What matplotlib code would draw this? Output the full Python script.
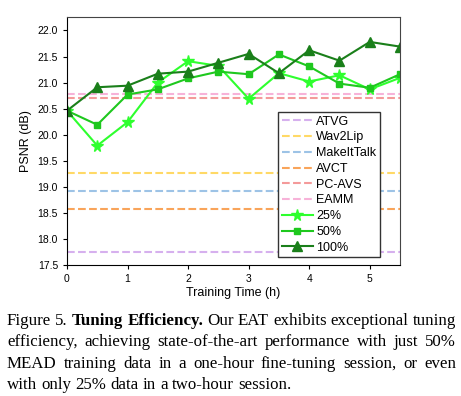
import numpy as np
import matplotlib
matplotlib.use('Agg')
import matplotlib.pyplot as plt

plt.rcParams['font.family'] = ['Liberation Sans', 'DejaVu Sans']

hours = [0, 0.5, 1, 1.5, 2, 2.5, 3, 3.5, 4, 4.5, 5, 5.5]
psnr_25 = [20.46, 19.79, 20.24, 21.00, 21.41, 21.32, 20.69, 21.18, 21.02, 21.14, 20.87, 21.09]
psnr_50 = [20.46, 20.19, 20.77, 20.87, 21.08, 21.21, 21.16, 21.54, 21.31, 20.98, 20.90, 21.16]
psnr_100 = [20.46, 20.91, 20.94, 21.17, 21.21, 21.38, 21.55, 21.18, 21.62, 21.42, 21.78, 21.69]

baselines = ['ATVG', 'Wav2Lip', 'MakeItTalk', 'AVCT', 'PC-AVS', 'EAMM']
baseline_psnr = [17.74, 19.27, 18.91, 18.57, 20.70, 20.78]
baseline_colors = ['#d6b0ee', '#ffd966', '#9dc3e6', '#f9a45a', '#f49a9a', '#f7b2d8']

ours = ['25%', '50%', '100%']
ours_colors = ['#2eff2e', '#1ec81e', '#1a7f1a']
ours_markers = ['*', 's', '^']
ours_msize = [8.5, 5, 7]

fig = plt.figure(figsize=(4.61, 3.96), dpi=100)
ax = fig.add_axes([0.1453, 0.331, 0.7224, 0.625])

for name, val, c in zip(baselines, baseline_psnr, baseline_colors):
    ax.axhline(val, color=c, linestyle='--', linewidth=1.5, label=name)

for name, ys, c, m, ms in zip(ours, [psnr_25, psnr_50, psnr_100], ours_colors, ours_markers, ours_msize):
    ax.plot(hours, ys, color=c, marker=m, markersize=ms, linewidth=1.5, label=name)

ax.set_xlim(0, 5.5)
ax.set_ylim(17.5, 22.25)
ax.set_xticks([0, 1, 2, 3, 4, 5])
ax.set_yticks(np.arange(17.5, 22.01, 0.5))
ax.yaxis.set_major_formatter(matplotlib.ticker.FormatStrFormatter('%.1f'))
ax.tick_params(labelsize=7.5, length=3)
ax.set_xlabel('Training Time (h)', fontsize=9, labelpad=2)
ax.set_ylabel('PSNR (dB)', fontsize=9, labelpad=4)
for s in ['top', 'right']:
    ax.spines[s].set_color('#444444')

leg = ax.legend(loc='lower right', bbox_to_anchor=(0.94, 0.03), fontsize=9,
                fancybox=False, edgecolor='#333333', framealpha=1,
                handlelength=2.5, handletextpad=0.25, labelspacing=0.3,
                borderpad=0.3, borderaxespad=0)
leg.get_frame().set_linewidth(1.0)

# caption, justified word by word
cap_lines = [
    [('Figure', 'normal'), ('5.', 'normal'), ('Tuning', 'bold'), ('Efficiency.', 'bold'), ('Our', 'normal'),
     ('EAT', 'normal'), ('exhibits', 'normal'), ('exceptional', 'normal'), ('tuning', 'normal')],
    [(w, 'normal') for w in 'efficiency, achieving state-of-the-art performance with just 50%'.split()],
    [(w, 'normal') for w in 'MEAD training data in a one-hour fine-tuning session, or even'.split()],
    [(w, 'normal') for w in 'with only 25% data in a two-hour session.'.split()],
]
cap_y = [325, 346.5, 368, 389]
left_px, right_px = 7, 456
W, H = fig.get_size_inches() * fig.dpi
renderer = fig.canvas.get_renderer()
for i, (words, ypx) in enumerate(zip(cap_lines, cap_y)):
    texts = []
    for w, wt in words:
        t = fig.text(0, 1 - ypx / H, w, fontsize=12.2, fontweight=wt,
                     family=['Liberation Serif', 'DejaVu Serif'], va='baseline', ha='left')
        texts.append(t)
    widths = [t.get_window_extent(renderer).width for t in texts]
    if i < len(cap_lines) - 1:
        gap = (right_px - left_px - sum(widths)) / (len(texts) - 1)
    else:
        gap = 4.2
    x = left_px
    for t, wd in zip(texts, widths):
        t.set_x(x / W)
        x += wd + gap

fig.savefig('out.png', dpi=100)
